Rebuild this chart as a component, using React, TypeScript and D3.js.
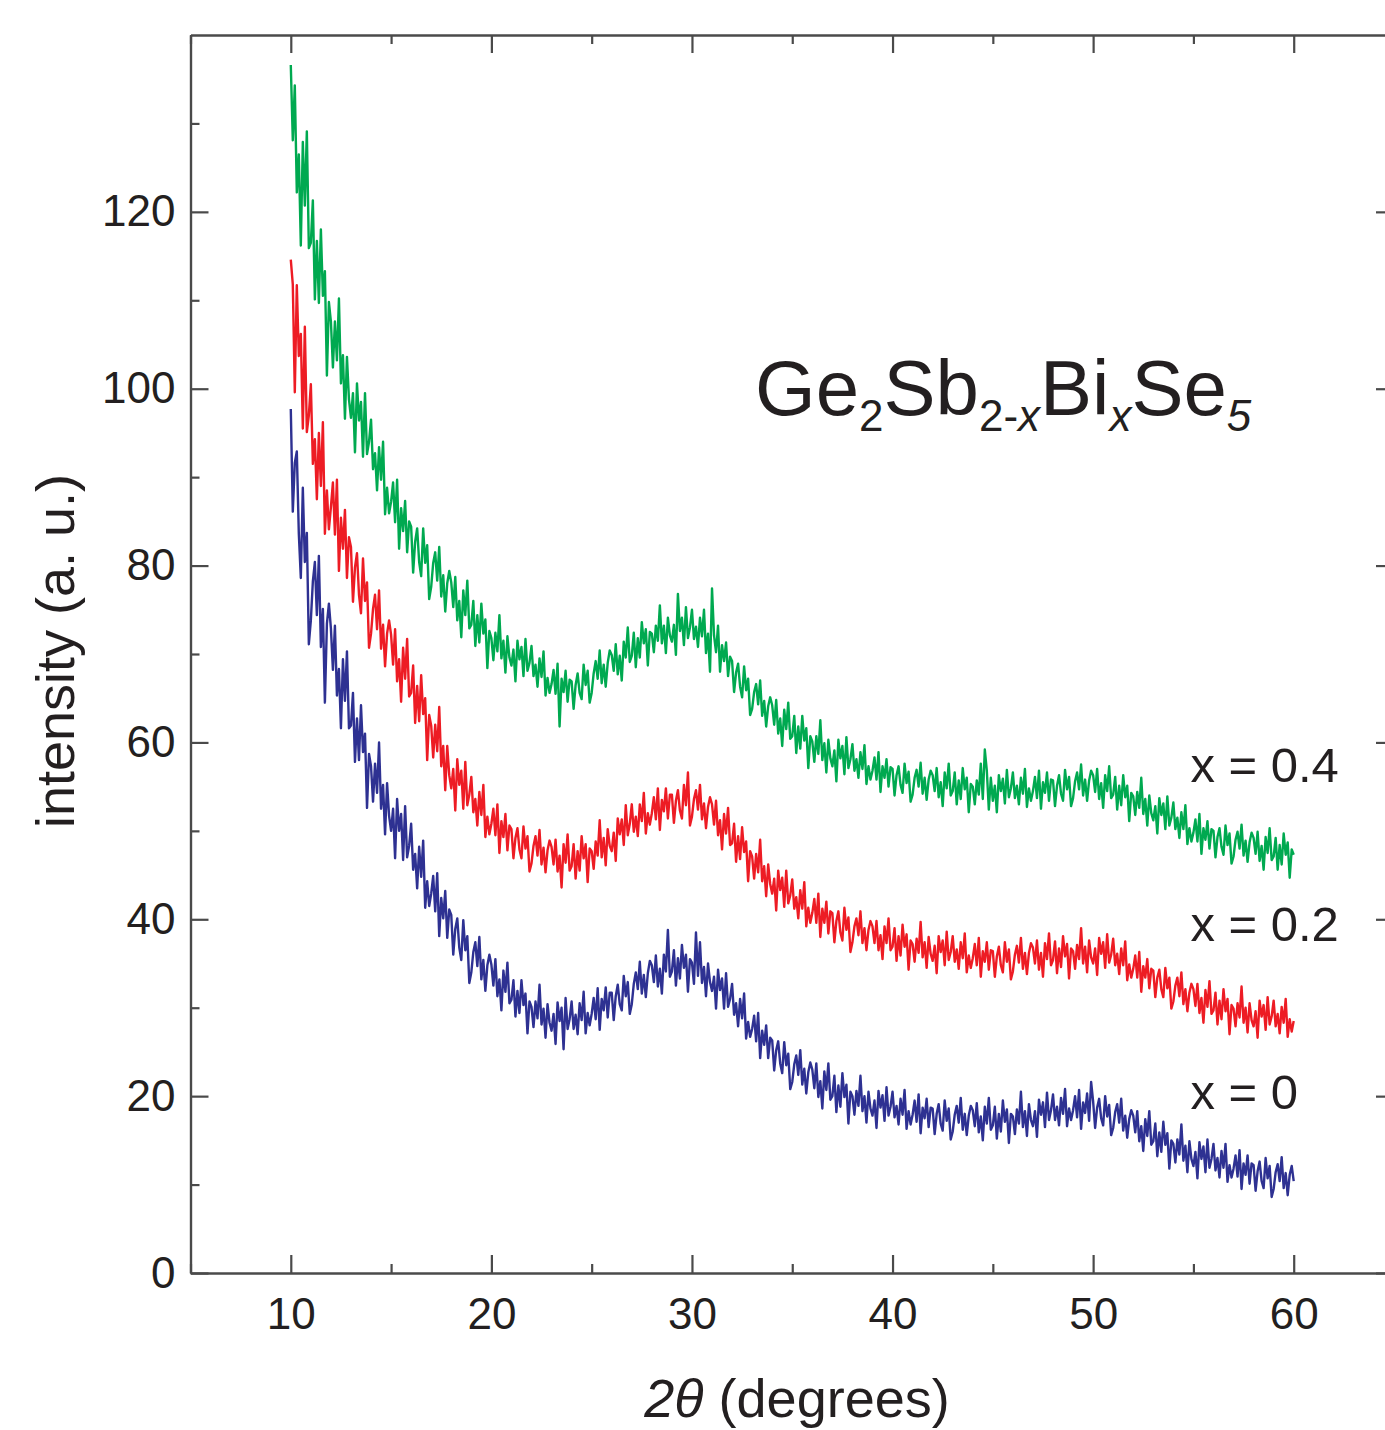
import React, { useEffect, useRef } from "react";
import * as d3 from "d3";

// scan grid of the diffractometer: 10.0 .. 60.0 deg, 0.1 deg steps
const thetaStart = 10;
const thetaStep = 0.1;

const xTicks = [10, 20, 30, 40, 50, 60];
const xMinorTicks = [5, 15, 25, 35, 45, 55, 65];
const yTicks = [0, 20, 40, 60, 80, 100, 120];
const yMinorTicks = [10, 30, 50, 70, 90, 110, 130];

const seriesLabels = ["x = 0.4", "x = 0.2", "x = 0"];
const seriesColors = ["#00A950", "#ED1C24", "#2E3192"];

// x = 0.4
const intensityX04 = [
  136.6, 128.1, 134.3, 122.2, 126.5, 116.2, 127.9, 120.7, 129.1, 115.9,
  116.5, 121.3, 110.1, 116.7, 109.7, 118.0, 110.5, 113.3, 101.5, 109.8,
  107.6, 102.4, 107.6, 103.2, 110.2, 100.6, 103.8, 96.6, 103.6, 98.8,
  96.7, 99.5, 92.8, 100.6, 96.4, 98.5, 92.3, 99.5, 92.6, 94.0,
  96.5, 90.9, 92.7, 88.5, 93.4, 89.7, 94.0, 85.8, 88.8, 85.9,
  87.2, 89.4, 84.9, 89.7, 81.9, 86.5, 83.9, 87.3, 81.5, 85.0,
  84.4, 79.2, 82.7, 84.2, 80.4, 78.8, 84.2, 80.3, 82.3, 76.2,
  77.6, 80.3, 81.5, 78.3, 82.1, 76.5, 78.9, 74.8, 78.0, 79.4,
  78.1, 75.3, 78.7, 73.8, 76.0, 71.9, 77.2, 74.4, 78.3, 72.9,
  73.3, 76.0, 70.9, 74.4, 71.3, 75.7, 72.3, 73.9, 68.4, 72.6,
  71.8, 69.3, 72.4, 70.3, 74.4, 69.5, 71.5, 67.9, 72.0, 69.6,
  68.7, 70.5, 66.9, 71.5, 69.4, 70.8, 67.5, 71.7, 68.1, 69.0,
  70.9, 67.5, 68.8, 66.3, 69.5, 67.4, 70.3, 65.3, 67.3, 65.6,
  66.6, 68.2, 65.5, 68.9, 61.8, 67.2, 65.7, 68.1, 64.6, 67.1,
  66.9, 63.8, 66.5, 67.8, 65.6, 64.9, 68.8, 66.5, 68.1, 64.5,
  65.6, 67.8, 69.2, 67.2, 70.4, 66.7, 68.8, 66.3, 69.0, 70.4,
  69.9, 68.1, 71.1, 67.7, 69.8, 67.0, 71.4, 69.6, 73.0, 69.1,
  69.8, 72.4, 68.5, 71.8, 69.6, 73.6, 71.2, 72.8, 68.7, 72.5,
  72.3, 70.2, 73.2, 71.5, 75.5, 71.2, 73.2, 70.1, 74.1, 72.1,
  71.4, 73.3, 69.9, 76.8, 72.6, 74.1, 71.0, 75.3, 71.8, 73.0,
  75.0, 71.7, 73.1, 70.8, 74.1, 72.0, 75.0, 70.1, 72.3, 68.0,
  77.4, 72.1, 70.2, 73.2, 68.0, 71.0, 69.2, 71.3, 67.5, 69.7,
  69.2, 65.7, 67.9, 68.9, 66.3, 65.1, 68.6, 65.9, 67.2, 63.1,
  63.8, 65.7, 66.6, 64.3, 67.0, 63.0, 64.7, 61.8, 64.1, 65.1,
  64.2, 62.0, 64.8, 61.0, 62.7, 59.6, 63.7, 61.5, 64.5, 60.4,
  60.7, 63.0, 58.8, 61.8, 59.3, 63.0, 60.2, 61.6, 57.1, 60.7,
  60.1, 57.8, 60.7, 58.7, 62.5, 58.0, 59.9, 56.6, 60.3, 58.2,
  57.3, 59.1, 55.6, 60.3, 58.2, 59.6, 56.4, 60.6, 57.1, 58.1,
  59.8, 56.8, 58.1, 56.0, 58.9, 57.0, 59.7, 55.3, 57.3, 55.8,
  56.8, 58.3, 55.8, 58.9, 54.4, 57.3, 56.0, 58.1, 55.0, 57.2,
  57.0, 54.0, 56.3, 57.3, 55.2, 54.3, 57.6, 55.4, 56.7, 53.3,
  54.1, 56.0, 56.9, 55.0, 57.7, 54.2, 56.0, 53.5, 55.8, 56.8,
  56.3, 54.5, 57.1, 53.8, 55.5, 52.8, 56.6, 54.8, 57.6, 54.0,
  54.5, 56.6, 53.0, 55.7, 53.6, 57.1, 54.7, 56.0, 52.1, 55.3,
  55.0, 53.0, 55.7, 54.1, 57.6, 53.6, 59.2, 56.8, 52.4, 56.0,
  53.4, 55.1, 52.1, 56.3, 54.5, 55.9, 53.1, 56.9, 53.8, 54.8,
  56.6, 53.7, 55.1, 53.0, 56.0, 54.2, 57.0, 52.7, 54.8, 53.4,
  54.5, 56.1, 53.7, 56.8, 52.5, 55.5, 54.3, 56.6, 53.4, 55.8,
  55.7, 52.8, 55.1, 56.3, 54.2, 53.4, 56.9, 54.7, 56.1, 52.8,
  53.7, 55.6, 56.6, 54.7, 57.5, 54.0, 55.8, 53.4, 55.7, 56.8,
  56.3, 54.4, 57.0, 53.6, 55.4, 52.6, 56.3, 54.5, 57.3, 53.7,
  54.1, 56.1, 52.4, 55.1, 52.9, 56.3, 53.8, 55.1, 51.1, 54.3,
  53.9, 51.8, 54.4, 52.6, 56.0, 51.9, 53.6, 50.6, 54.0, 52.0,
  51.2, 52.8, 49.7, 53.7, 51.8, 53.1, 50.2, 53.9, 50.6, 51.5,
  53.2, 50.2, 51.5, 49.2, 52.1, 50.2, 52.9, 48.5, 50.3, 48.8,
  49.8, 51.3, 48.8, 51.9, 47.4, 50.3, 49.0, 51.1, 48.0, 50.2,
  50.0, 47.0, 49.3, 50.3, 48.2, 47.3, 50.6, 48.4, 49.7, 46.3,
  47.1, 49.0, 49.9, 48.0, 50.7, 47.2, 48.9, 46.5, 48.7, 49.8,
  49.2, 47.4, 49.9, 46.6, 48.3, 45.6, 49.3, 47.5, 50.3, 46.7,
  47.1, 49.2, 45.6, 48.4, 46.2, 49.7, 47.3, 48.7, 44.7, 47.9,
  47.3,
];

// x = 0.2
const intensityX02 = [
  114.6, 111.8, 99.6, 111.7, 103.7, 106.2, 95.5, 107.0, 95.1, 97.0,
  100.5, 91.5, 94.3, 87.5, 95.0, 89.0, 96.2, 83.6, 88.5, 84.1,
  86.6, 89.4, 83.5, 89.7, 79.4, 85.4, 81.9, 86.3, 78.6, 83.2,
  82.1, 75.9, 79.8, 81.4, 76.7, 74.6, 80.8, 76.0, 78.1, 70.7,
  72.3, 75.1, 76.7, 72.8, 77.2, 70.6, 73.3, 68.6, 72.3, 73.8,
  72.2, 68.8, 72.8, 66.9, 69.4, 64.6, 70.7, 67.2, 71.7, 65.2,
  65.6, 68.7, 62.2, 66.4, 62.4, 67.6, 63.2, 65.0, 58.0, 63.1,
  61.9, 58.3, 62.0, 59.0, 64.0, 57.3, 59.6, 54.6, 59.6, 56.3,
  54.8, 57.0, 52.3, 58.1, 55.2, 56.8, 52.5, 57.8, 52.9, 54.1,
  56.1, 52.1, 53.6, 50.6, 54.4, 51.8, 55.2, 49.3, 51.6, 49.6,
  50.8, 52.5, 49.5, 53.0, 47.5, 51.1, 49.3, 51.9, 47.8, 50.6,
  50.2, 46.9, 49.2, 50.3, 47.9, 46.9, 50.5, 48.0, 49.4, 45.4,
  46.3, 48.3, 49.4, 47.2, 50.1, 46.2, 48.1, 45.3, 47.8, 48.9,
  48.2, 46.2, 49.0, 45.4, 47.2, 43.6, 48.5, 46.4, 49.6, 45.5,
  46.0, 48.5, 44.6, 47.7, 45.5, 49.4, 46.9, 48.5, 44.2, 48.0,
  47.7, 45.7, 48.8, 47.2, 51.2, 47.0, 49.2, 46.1, 50.2, 48.3,
  47.7, 49.8, 46.6, 51.4, 49.6, 51.3, 48.4, 52.9, 49.5, 50.8,
  53.0, 49.9, 51.6, 49.4, 53.0, 51.1, 54.3, 49.7, 52.0, 50.7,
  52.0, 53.8, 51.3, 54.8, 50.1, 53.5, 52.2, 54.8, 51.4, 54.1,
  54.1, 50.9, 53.4, 54.6, 52.3, 51.4, 55.2, 52.9, 56.6, 50.6,
  51.6, 53.6, 54.6, 52.4, 55.2, 51.3, 53.1, 50.3, 52.7, 53.8,
  53.0, 50.7, 53.4, 49.5, 51.2, 47.9, 51.9, 49.7, 52.6, 48.4,
  48.6, 50.8, 46.5, 49.4, 46.8, 50.4, 47.6, 48.8, 44.3, 47.7,
  47.1, 44.6, 47.4, 45.3, 49.0, 44.3, 46.0, 42.6, 46.2, 44.0,
  42.9, 44.6, 41.0, 45.5, 43.3, 44.7, 41.4, 45.5, 41.8, 42.7,
  44.5, 41.2, 42.5, 40.1, 43.3, 41.2, 44.2, 39.2, 41.3, 39.6,
  40.7, 42.3, 39.6, 42.9, 38.0, 41.2, 39.6, 42.0, 38.4, 40.9,
  40.7, 37.4, 39.8, 40.9, 38.5, 37.6, 41.3, 38.8, 40.2, 36.3,
  37.4, 39.2, 40.1, 38.2, 40.9, 37.3, 39.0, 36.5, 38.8, 39.8,
  39.2, 37.3, 39.8, 36.5, 38.2, 35.5, 39.2, 37.3, 40.1, 36.5,
  36.9, 39.0, 35.3, 38.1, 35.9, 39.4, 36.9, 38.3, 34.3, 37.6,
  37.2, 35.2, 37.8, 36.2, 39.7, 35.7, 37.4, 34.5, 38.0, 36.1,
  35.3, 37.0, 33.9, 38.1, 36.3, 37.6, 34.8, 38.6, 35.4, 36.3,
  38.1, 35.2, 36.6, 34.4, 37.4, 35.6, 38.4, 34.0, 35.9, 34.5,
  35.6, 37.2, 34.8, 37.9, 33.5, 36.4, 35.2, 37.4, 34.3, 36.5,
  36.4, 33.5, 35.8, 36.9, 34.8, 34.0, 37.4, 35.2, 36.6, 33.2,
  34.1, 36.0, 37.0, 35.1, 37.9, 34.4, 36.2, 33.8, 36.2, 37.3,
  36.8, 35.0, 37.6, 34.3, 36.2, 33.5, 37.3, 35.5, 38.4, 34.8,
  35.4, 37.5, 33.9, 36.7, 34.6, 38.1, 35.8, 37.2, 33.3, 36.7,
  36.4, 34.4, 37.1, 35.5, 39.0, 35.0, 36.9, 34.0, 37.6, 35.7,
  35.0, 36.7, 33.7, 37.9, 36.1, 37.4, 34.5, 38.3, 35.1, 36.0,
  37.8, 34.8, 36.1, 33.8, 36.7, 34.8, 37.5, 33.1, 34.9, 33.4,
  34.4, 35.9, 33.4, 36.3, 31.8, 34.7, 33.4, 35.5, 32.2, 34.4,
  34.2, 31.2, 33.4, 34.3, 32.1, 31.2, 34.5, 32.2, 33.4, 29.9,
  30.7, 32.5, 33.4, 31.3, 34.0, 30.4, 32.1, 29.6, 31.7, 32.7,
  32.1, 30.2, 32.7, 29.4, 31.1, 28.3, 32.0, 30.1, 33.0, 29.3,
  29.7, 31.7, 28.1, 30.8, 28.7, 32.1, 29.6, 31.0, 27.0, 30.3,
  29.9, 27.9, 30.5, 28.9, 32.4, 28.3, 30.0, 27.2, 30.5, 28.6,
  27.9, 29.6, 26.6, 30.8, 29.0, 30.3, 27.5, 31.2, 28.1, 29.0,
  30.8, 27.9, 29.3, 27.1, 30.1, 28.3, 31.0, 26.7, 28.7, 27.3,
  28.5,
];

// x = 0
const intensityX0 = [
  97.7, 86.1, 91.6, 92.9, 83.6, 78.6, 88.8, 80.4, 83.7, 71.1,
  73.8, 78.2, 80.4, 74.4, 81.1, 70.8, 75.1, 64.5, 73.4, 75.7,
  72.9, 68.2, 73.2, 65.3, 68.3, 61.6, 69.4, 64.7, 70.3, 61.6,
  61.9, 65.6, 57.8, 62.7, 58.0, 64.2, 58.9, 61.0, 52.6, 58.7,
  57.3, 53.3, 57.6, 54.3, 60.0, 52.5, 55.2, 49.6, 55.4, 51.7,
  50.0, 52.5, 46.9, 53.6, 50.0, 51.9, 46.7, 52.8, 47.0, 48.3,
  50.8, 45.6, 47.4, 43.5, 48.2, 44.8, 48.9, 41.3, 44.3, 41.5,
  42.9, 44.9, 40.9, 45.2, 38.1, 42.4, 40.1, 43.2, 37.9, 41.1,
  40.5, 36.0, 38.9, 40.1, 36.8, 35.4, 39.9, 36.5, 38.1, 32.8,
  34.0, 36.3, 37.4, 34.7, 38.0, 33.2, 35.4, 31.9, 34.8, 36.0,
  34.9, 32.5, 35.5, 31.3, 33.2, 29.7, 34.2, 31.8, 35.1, 30.5,
  30.9, 33.1, 29.0, 31.9, 29.4, 33.1, 30.3, 31.6, 27.1, 30.7,
  30.1, 27.8, 30.7, 28.8, 32.6, 28.1, 29.9, 26.6, 30.4, 28.3,
  27.4, 29.3, 25.9, 30.6, 28.5, 30.0, 25.3, 31.1, 27.6, 28.7,
  30.7, 27.6, 29.2, 27.0, 30.5, 28.6, 31.8, 27.1, 29.4, 28.0,
  29.3, 31.1, 28.7, 32.2, 27.5, 31.0, 29.7, 32.3, 28.9, 31.7,
  31.7, 28.6, 31.3, 32.6, 30.4, 29.7, 33.6, 31.3, 32.9, 29.3,
  30.4, 32.7, 34.0, 32.1, 35.2, 31.6, 33.7, 31.2, 33.9, 35.3,
  34.8, 32.9, 35.9, 32.4, 34.4, 31.6, 36.0, 34.1, 38.8, 33.5,
  34.1, 36.5, 32.5, 35.6, 33.3, 37.1, 34.5, 36.0, 31.8, 35.5,
  35.1, 32.7, 38.5, 33.6, 37.4, 32.8, 34.6, 31.3, 35.0, 32.9,
  31.9, 33.5, 29.9, 34.3, 32.0, 33.3, 29.9, 33.9, 30.1, 31.0,
  32.7, 29.2, 30.5, 27.9, 31.0, 28.8, 31.6, 26.5, 28.4, 26.7,
  27.6, 29.1, 26.2, 29.4, 24.3, 27.4, 25.8, 28.0, 24.3, 26.6,
  26.3, 22.9, 25.2, 26.2, 23.7, 22.6, 26.1, 23.5, 24.8, 20.8,
  21.6, 23.6, 24.6, 22.4, 25.2, 21.3, 23.1, 20.3, 22.7, 23.8,
  23.0, 20.9, 23.7, 19.9, 21.7, 18.6, 22.8, 20.7, 23.7, 19.6,
  20.0, 22.3, 18.2, 21.2, 18.8, 22.6, 19.9, 21.3, 16.9, 20.5,
  20.0, 17.9, 20.6, 18.9, 22.3, 18.3, 20.0, 17.0, 20.5, 18.6,
  17.8, 19.5, 16.4, 20.6, 18.7, 20.1, 17.2, 21.0, 17.8, 18.8,
  20.5, 17.6, 18.9, 16.8, 19.7, 17.9, 20.7, 16.3, 18.3, 16.8,
  17.9, 19.5, 17.1, 20.2, 15.8, 18.7, 17.5, 19.7, 16.5, 18.7,
  18.6, 15.7, 18.0, 19.1, 16.9, 16.1, 19.5, 17.2, 18.6, 15.1,
  16.0, 17.9, 18.9, 17.0, 19.8, 16.2, 18.0, 15.6, 17.8, 18.9,
  18.4, 16.6, 19.2, 15.9, 17.7, 15.0, 18.8, 16.9, 19.8, 16.2,
  16.7, 18.8, 15.2, 18.0, 16.0, 19.5, 17.1, 18.5, 14.7, 18.0,
  17.7, 15.7, 18.5, 16.9, 20.5, 16.5, 18.3, 15.5, 19.1, 17.3,
  16.6, 18.3, 15.4, 19.6, 17.9, 19.3, 16.5, 20.4, 17.3, 18.4,
  20.2, 17.3, 18.8, 16.7, 19.8, 18.0, 20.8, 16.6, 18.6, 17.3,
  18.4, 20.0, 17.6, 20.7, 16.3, 19.3, 18.1, 20.3, 17.2, 21.6,
  19.4, 16.4, 18.7, 19.7, 17.5, 16.7, 20.0, 17.7, 19.0, 15.6,
  16.4, 18.2, 19.1, 17.0, 19.7, 16.1, 17.8, 15.3, 17.4, 18.4,
  17.8, 15.9, 18.3, 14.9, 16.6, 13.8, 17.4, 15.5, 18.3, 14.5,
  14.9, 16.9, 13.2, 15.9, 13.7, 17.1, 14.5, 15.8, 11.8, 15.0,
  14.6, 12.5, 15.1, 13.4, 16.8, 12.7, 14.4, 11.4, 14.9, 12.9,
  12.1, 13.7, 10.7, 14.8, 12.9, 14.3, 11.4, 15.1, 11.9, 12.9,
  14.6, 11.6, 13.0, 10.8, 13.8, 11.9, 14.6, 10.3, 12.2, 10.8,
  11.8, 13.3, 10.9, 13.9, 9.5, 12.4, 11.1, 13.3, 10.1, 12.4,
  12.2, 9.3, 11.5, 12.6, 10.4, 9.6, 13.0, 10.7, 12.1, 8.6,
  9.5, 11.4, 12.3, 10.4, 13.1, 9.6, 11.3, 8.8, 11.1, 12.1,
  10.4,
];

const allSeries = [intensityX04, intensityX02, intensityX0];

const width = 1385;
const height = 1430;
const margin = { top: 35, left: 190.5 };
const plotRight = 1394;
const plotBottom = 1273;
const fontFamily = '"Liberation Sans", Arial, Helvetica, sans-serif';
const textColor = "#231F20";
const axisColor = "#4a4a4a";

// where the series labels sit (data coordinates)
const labelTheta = 54.85;
const labelIntensity = [55.5, 37.6, 18.6];

function App() {
  const svgRef = useRef<SVGSVGElement | null>(null);

  useEffect(() => {
    const svg = d3.select(svgRef.current);
    svg.selectAll("*").remove();

    const x = d3.scaleLinear().domain([5, 65]).range([margin.left, plotRight]);
    const y = d3.scaleLinear().domain([0, 140]).range([plotBottom, margin.top]);

    const styleAxis = (g: any, labels: boolean) => {
      g.attr("font-family", fontFamily).attr("font-size", 44);
      g.select(".domain").attr("stroke", axisColor).attr("stroke-width", 2.2);
      g.selectAll(".tick line").attr("stroke", axisColor).attr("stroke-width", 2.2);
      if (labels) g.selectAll(".tick text").attr("fill", textColor);
      else g.selectAll(".tick text").remove();
    };

    // bottom
    svg.append("g")
      .attr("transform", `translate(0,${plotBottom})`)
      .call(d3.axisBottom(x).tickValues(xMinorTicks).tickSize(-9).tickSizeOuter(0))
      .call((g: any) => styleAxis(g, false));
    svg.append("g")
      .attr("transform", `translate(0,${plotBottom})`)
      .call(d3.axisBottom(x).tickValues(xTicks).tickSize(-18).tickSizeOuter(0).tickPadding(25).tickFormat(d3.format("d")))
      .call((g: any) => styleAxis(g, true));

    // top
    svg.append("g")
      .attr("transform", `translate(0,${margin.top})`)
      .call(d3.axisTop(x).tickValues(xMinorTicks).tickSize(-9).tickSizeOuter(0))
      .call((g: any) => styleAxis(g, false));
    svg.append("g")
      .attr("transform", `translate(0,${margin.top})`)
      .call(d3.axisTop(x).tickValues(xTicks).tickSize(-18).tickSizeOuter(0))
      .call((g: any) => styleAxis(g, false));

    // left
    svg.append("g")
      .attr("transform", `translate(${margin.left},0)`)
      .call(d3.axisLeft(y).tickValues(yMinorTicks).tickSize(-9).tickSizeOuter(0))
      .call((g: any) => styleAxis(g, false));
    svg.append("g")
      .attr("transform", `translate(${margin.left},0)`)
      .call(d3.axisLeft(y).tickValues(yTicks).tickSize(-18).tickSizeOuter(0).tickPadding(15).tickFormat(d3.format("d")))
      .call((g: any) => styleAxis(g, true));

    // right
    svg.append("g")
      .attr("transform", `translate(${plotRight},0)`)
      .call(d3.axisRight(y).tickValues(yMinorTicks).tickSize(-9).tickSizeOuter(0))
      .call((g: any) => styleAxis(g, false));
    svg.append("g")
      .attr("transform", `translate(${plotRight},0)`)
      .call(d3.axisRight(y).tickValues(yTicks).tickSize(-18).tickSizeOuter(0))
      .call((g: any) => styleAxis(g, false));

    // the three scans
    const line = d3
      .line<number>()
      .x((d, i) => x(thetaStart + i * thetaStep))
      .y((d) => y(d));

    allSeries.forEach((values, k) => {
      svg.append("path")
        .datum(values)
        .attr("fill", "none")
        .attr("stroke", seriesColors[k])
        .attr("stroke-width", 2.4)
        .attr("stroke-linejoin", "round")
        .attr("d", line);
    });

    // series labels
    seriesLabels.forEach((label, k) => {
      svg.append("text")
        .attr("x", x(labelTheta))
        .attr("y", y(labelIntensity[k]))
        .attr("font-family", fontFamily)
        .attr("font-size", 49)
        .attr("fill", textColor)
        .text(label);
    });

    // compound formula Ge2Sb2-xBixSe5
    const formula = svg.append("text")
      .attr("x", 755)
      .attr("y", 415)
      .attr("font-family", fontFamily)
      .attr("font-size", 78)
      .attr("fill", textColor);
    const parts: [string, boolean, boolean][] = [
      ["Ge", false, false], ["2", true, false],
      ["Sb", false, false], ["2-", true, false], ["x", true, true],
      ["Bi", false, false], ["x", true, true],
      ["Se", false, false], ["5", true, true],
    ];
    let lowered = false;
    parts.forEach(([t, sub, ital]) => {
      const ts = formula.append("tspan").text(t);
      if (sub && !lowered) ts.attr("dy", 16);
      if (!sub && lowered) ts.attr("dy", -16);
      lowered = sub;
      ts.attr("font-size", sub ? 44 : 78);
      if (ital) ts.attr("font-style", "italic");
    });

    // axis titles
    const xTitle = svg.append("text")
      .attr("x", 797)
      .attr("y", 1417)
      .attr("text-anchor", "middle")
      .attr("font-family", fontFamily)
      .attr("font-size", 54)
      .attr("fill", textColor);
    xTitle.append("tspan").attr("font-style", "italic").text("2θ");
    xTitle.append("tspan").text(" (degrees)");

    svg.append("text")
      .attr("transform", `translate(74,651) rotate(-90)`)
      .attr("text-anchor", "middle")
      .attr("font-family", fontFamily)
      .attr("font-size", 54)
      .attr("fill", textColor)
      .text("intensity (a. u.)");
  }, []);

  return (
    <svg
      ref={svgRef}
      width={width}
      height={height}
      style={{ position: "absolute", left: 0, top: 0, background: "#fff", display: "block" }}
    />
  );
}

export default App;
